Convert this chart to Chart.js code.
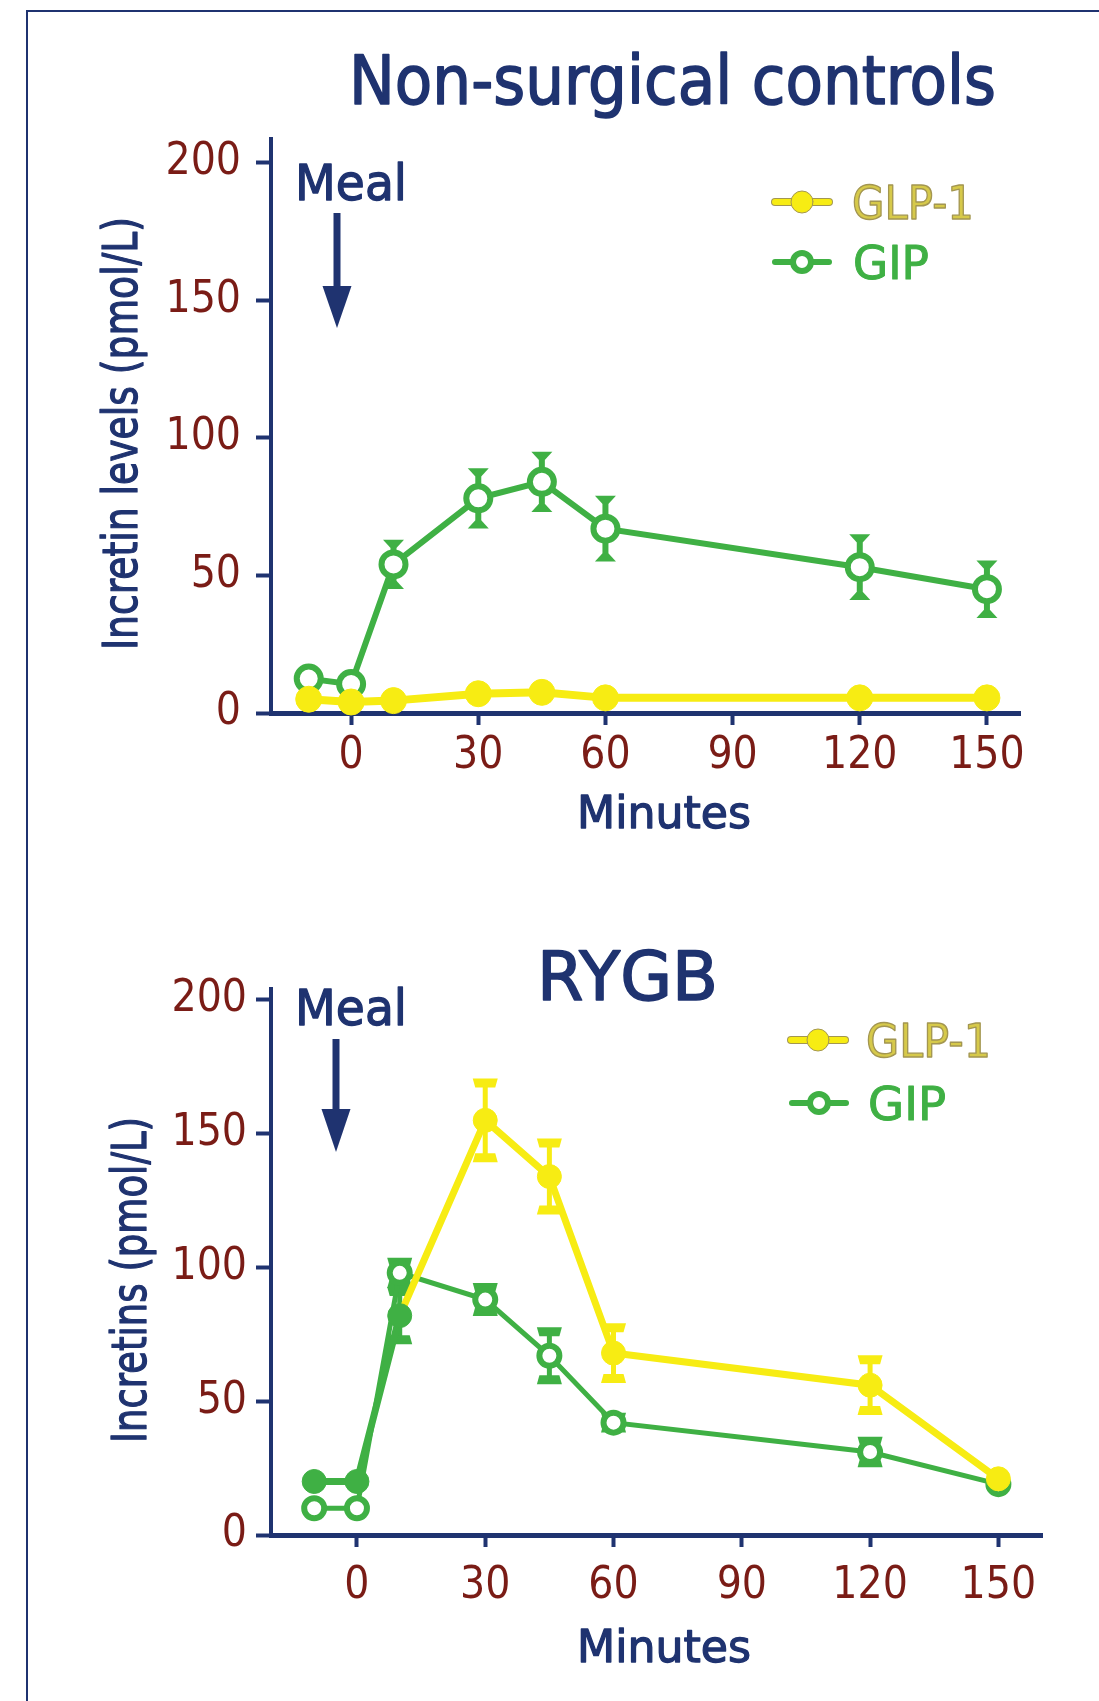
<!DOCTYPE html>
<html>
<head>
<meta charset="utf-8">
<script src="https://cdn.jsdelivr.net/npm/chart.js@4.4.1/dist/chart.umd.min.js"></script>
<style>
  html, body { margin: 0; padding: 0; background: #fff; }
  body { width: 1099px; height: 1701px; position: relative; overflow: hidden; }
  .frame { position: absolute; left: 26px; top: 10px; width: 1100px; height: 1700px;
           border-left: 2px solid #1f3370; border-top: 2px solid #1f3370; }
  .panel { position: absolute; left: 0; }
  canvas { display: block; }
</style>
</head>
<body>
<div class="frame"></div>
<div class="panel" style="top:0"><canvas id="controlsChart" width="1099" height="860"></canvas></div>
<div class="panel" style="top:860px"><canvas id="rygbChart" width="1099" height="841"></canvas></div>
<script>
const minutes = [-10, 0, 10, 30, 45, 60, 120, 150];
const xTicks = [0, 30, 60, 90, 120, 150];
const yTicks = [0, 50, 100, 150, 200];

// Non-surgical controls
const controlsGlp1 = [5, 4, 4.5, 7, 7.5, 5.5, 5.5, 5.5];
const controlsGlp1Err = [0, 0, 0, 0, 0, 0, 0, 0];
const controlsGip = [12.5, 10.5, 54, 78, 84, 67, 53, 45];
const controlsGipErr = [0, 0, 7.5, 9.5, 9.5, 10.5, 10.5, 9];

// RYGB
const rygbGlp1 = [20, 20, 82, 155, 134, 68, 56, 21];
const rygbGlp1Err = [0, 0, 9, 14, 12.5, 9.5, 9.5, 0];
const rygbGip = [10, 10, 98, 88, 67, 42, 31, 19];
const rygbGipErr = [0, 0, 4, 4.5, 9, 2, 4, 0];

const NAVY = '#1f3370';
const RED = '#7a1c16';
const GREEN = '#3fb044';
const YELLOW = '#f7ec13';
const OLIVE = '#a39651';
const TEXT_FONT = "'DejaVu Sans', sans-serif";
const TICK_FONT = "'DejaVu Sans Condensed', 'Liberation Sans Narrow', 'DejaVu Sans', sans-serif";

function points(values) {
  return minutes.map((m, i) => ({ x: m, y: values[i] }));
}

// text squeezed/stretched to the width it has in the figure,
// with a thin outline in the same colour to get the heavier weight
function fitText(ctx, text, x, y, width, size, color, rotate, stroke, strokeWidth) {
  ctx.save();
  ctx.font = size + 'px ' + TEXT_FONT;
  const w = ctx.measureText(text).width;
  ctx.translate(x, y);
  if (rotate) ctx.rotate(rotate);
  ctx.scale(width / w, 1);
  ctx.textAlign = 'center';
  ctx.textBaseline = 'alphabetic';
  ctx.fillStyle = color;
  ctx.fillText(text, 0, 0);
  ctx.lineJoin = 'round';
  ctx.lineWidth = strokeWidth || 1.3;
  ctx.strokeStyle = stroke || color;
  ctx.strokeText(text, 0, 0);
  ctx.restore();
}

function decor(cfg) {
  return {
    id: 'decor',
    beforeDatasetsDraw(chart) {
      const ctx = chart.ctx;
      const xs = chart.scales.x, ys = chart.scales.y;
      chart.data.datasets.slice().reverse().forEach(ds => {
        if (!ds.errors) return;
        ds.errors.forEach((e, i) => {
          if (!e) return;
          const px = xs.getPixelForValue(minutes[i]);
          const top = ys.getPixelForValue(ds.data[i].y + e);
          const bot = ys.getPixelForValue(ds.data[i].y - e);
          const color = ds.errColor(i);
          const cw = cfg.capW / 2, ch = cfg.capH, k = cfg.capTaper;
          ctx.save();
          ctx.strokeStyle = color;
          ctx.fillStyle = color;
          ctx.lineWidth = cfg.errWidth;
          ctx.beginPath();
          ctx.moveTo(px, top);
          ctx.lineTo(px, bot);
          ctx.stroke();
          ctx.beginPath();
          ctx.moveTo(px - cw, top - ch / 2);
          ctx.lineTo(px + cw, top - ch / 2);
          ctx.lineTo(px + cw * k, top + ch / 2);
          ctx.lineTo(px - cw * k, top + ch / 2);
          ctx.closePath();
          ctx.fill();
          ctx.beginPath();
          ctx.moveTo(px - cw, bot + ch / 2);
          ctx.lineTo(px + cw, bot + ch / 2);
          ctx.lineTo(px + cw * k, bot - ch / 2);
          ctx.lineTo(px - cw * k, bot - ch / 2);
          ctx.closePath();
          ctx.fill();
          ctx.restore();
        });
      });
    },
    afterDraw(chart) {
      const ctx = chart.ctx;
      const t = cfg.title;
      fitText(ctx, t.text, t.x, t.y, t.w, t.size, NAVY, 0, NAVY, 1.6);
      const yt = cfg.yTitle;
      fitText(ctx, yt.text, yt.x, yt.y, yt.w, yt.size, NAVY, -Math.PI / 2);
      const xt = cfg.xTitle;
      fitText(ctx, 'Minutes', xt.x, xt.y, xt.w, xt.size, NAVY);

      // meal marker
      const m = cfg.meal;
      fitText(ctx, 'Meal', m.x, m.y, m.w, m.size, NAVY);
      ctx.save();
      ctx.strokeStyle = NAVY;
      ctx.fillStyle = NAVY;
      ctx.lineWidth = 7;
      ctx.beginPath();
      ctx.moveTo(m.ax, m.a0);
      ctx.lineTo(m.ax, m.a1 + 4);
      ctx.stroke();
      ctx.beginPath();
      ctx.moveTo(m.ax - 14.5, m.a1);
      ctx.lineTo(m.ax + 14.5, m.a1);
      ctx.lineTo(m.ax, m.tip);
      ctx.closePath();
      ctx.fill();
      ctx.restore();

      // legend
      cfg.legend.forEach(l => {
        ctx.save();
        ctx.lineCap = 'round';
        if (l.filled) {
          ctx.strokeStyle = OLIVE;
          ctx.lineWidth = 8;
          ctx.beginPath();
          ctx.moveTo(l.mx - 27, l.my);
          ctx.lineTo(l.mx + 27, l.my);
          ctx.stroke();
          ctx.strokeStyle = YELLOW;
          ctx.lineWidth = 6;
          ctx.stroke();
          ctx.beginPath();
          ctx.arc(l.mx, l.my, 11, 0, Math.PI * 2);
          ctx.fillStyle = YELLOW;
          ctx.fill();
          ctx.lineWidth = 1;
          ctx.strokeStyle = OLIVE;
          ctx.stroke();
        } else {
          ctx.strokeStyle = GREEN;
          ctx.lineWidth = 6;
          ctx.beginPath();
          ctx.moveTo(l.mx - 27, l.my);
          ctx.lineTo(l.mx + 27, l.my);
          ctx.stroke();
          ctx.beginPath();
          ctx.arc(l.mx, l.my, 9, 0, Math.PI * 2);
          ctx.fillStyle = '#fff';
          ctx.fill();
          ctx.lineWidth = 6;
          ctx.stroke();
        }
        ctx.restore();
        fitText(ctx, l.text, l.tx + l.tw / 2, l.my + 17, l.tw, 46, l.color, 0, l.stroke, l.stroke ? 1.4 : 1);
      });
    }
  };
}

function makeChart(id, cfg) {
  const greenUntil = cfg.greenUntil;
  const glpColor = i => (i <= greenUntil ? GREEN : YELLOW);
  return new Chart(document.getElementById(id), {
    type: 'line',
    data: {
      datasets: [
        {
          label: 'GLP-1',
          data: points(cfg.glp1),
          errors: cfg.glp1Err,
          errColor: glpColor,
          borderColor: YELLOW,
          borderWidth: cfg.glpLine,
          segment: { borderColor: c => glpColor(c.p1DataIndex) },
          pointStyle: 'circle',
          pointRadius: cfg.glpRadius,
          pointBackgroundColor: c => glpColor(c.dataIndex),
          pointBorderColor: c => glpColor(c.dataIndex),
          pointBorderWidth: 1,
          tension: 0,
          clip: false
        },
        {
          label: 'GIP',
          data: points(cfg.gip),
          errors: cfg.gipErr,
          errColor: () => GREEN,
          borderColor: GREEN,
          borderWidth: cfg.gipLine,
          pointStyle: 'circle',
          pointRadius: cfg.gipRadius,
          pointBackgroundColor: '#fff',
          pointBorderColor: GREEN,
          pointBorderWidth: cfg.gipBorder,
          tension: 0,
          clip: false
        }
      ]
    },
    options: {
      responsive: false,
      animation: false,
      events: [],
      layout: { padding: { left: 0, right: cfg.padRight, top: cfg.padTop, bottom: 0 } },
      plugins: { legend: { display: false }, title: { display: false }, tooltip: { enabled: false } },
      scales: {
        x: {
          type: 'linear',
          min: cfg.xMin,
          max: cfg.xMax,
          afterBuildTicks: axis => { axis.ticks = xTicks.map(v => ({ value: v })); },
          afterFit: s => { s.height = cfg.xHeight; },
          border: { display: true, color: NAVY, width: 5 },
          grid: { display: true, drawOnChartArea: false, drawTicks: true, tickLength: 12, tickWidth: 4, tickColor: NAVY, color: NAVY },
          ticks: { color: RED, font: { family: TICK_FONT, size: 44 }, padding: cfg.xPad, maxRotation: 0, minRotation: 0, autoSkip: false }
        },
        y: {
          min: 0,
          max: cfg.yMax,
          afterBuildTicks: axis => { axis.ticks = yTicks.map(v => ({ value: v })); },
          afterFit: s => { s.width = 271; },
          border: { display: true, color: NAVY, width: 4 },
          grid: { display: true, drawOnChartArea: false, drawTicks: true, tickLength: 15, tickWidth: 4, tickColor: NAVY, color: NAVY },
          ticks: { color: RED, font: { family: TICK_FONT, size: 44 }, padding: cfg.yPad, autoSkip: false }
        }
      }
    },
    plugins: [decor(cfg)]
  });
}

makeChart('controlsChart', {
  glp1: controlsGlp1, glp1Err: controlsGlp1Err, gip: controlsGip, gipErr: controlsGipErr,
  greenUntil: -1,
  glpLine: 8, gipLine: 6, glpRadius: 13, gipRadius: 12, gipBorder: 6,
  errWidth: 6, capW: 21, capH: 8, capTaper: 0.3,
  xMin: -18.9, xMax: 157.8, yMax: 208.6,
  padRight: 79, padTop: 139, xHeight: 147, xPad: 5, yPad: 15,
  title: { text: 'Non-surgical controls', x: 672.5, y: 104, w: 647, size: 67 },
  yTitle: { text: 'Incretin levels (pmol/L)', x: 137, y: 433.5, w: 433, size: 48 },
  xTitle: { x: 664, y: 828, w: 174, size: 45 },
  meal: { x: 351, y: 200, w: 112, size: 50, ax: 337, a0: 213, a1: 286, tip: 328 },
  legend: [
    { text: 'GLP-1', filled: true, mx: 802, my: 202, tx: 852, tw: 122, color: '#d6c94a', stroke: OLIVE },
    { text: 'GIP', filled: false, mx: 802, my: 262, tx: 853, tw: 76, color: GREEN }
  ]
});

makeChart('rygbChart', {
  glp1: rygbGlp1, glp1Err: rygbGlp1Err, gip: rygbGip, gipErr: rygbGipErr,
  greenUntil: 2,
  glpLine: 7, gipLine: 5, glpRadius: 12, gipRadius: 10, gipBorder: 6,
  errWidth: 5, capW: 25, capH: 9, capTaper: 0.8,
  xMin: -20.1, xMax: 160.2, yMax: 204.1,
  padRight: 57, padTop: 129, xHeight: 166, xPad: 13, yPad: 9,
  title: { text: 'RYGB', x: 627.5, y: 140, w: 181, size: 68 },
  yTitle: { text: 'Incretins (pmol/L)', x: 146, y: 420, w: 326, size: 48 },
  xTitle: { x: 664, y: 802, w: 174, size: 45 },
  meal: { x: 351, y: 165, w: 112, size: 50, ax: 336, a0: 179, a1: 249, tip: 292 },
  legend: [
    { text: 'GLP-1', filled: true, mx: 818, my: 180, tx: 866, tw: 125, color: '#d6c94a', stroke: OLIVE },
    { text: 'GIP', filled: false, mx: 819, my: 243, tx: 868, tw: 78, color: GREEN }
  ]
});
</script>
</body>
</html>
